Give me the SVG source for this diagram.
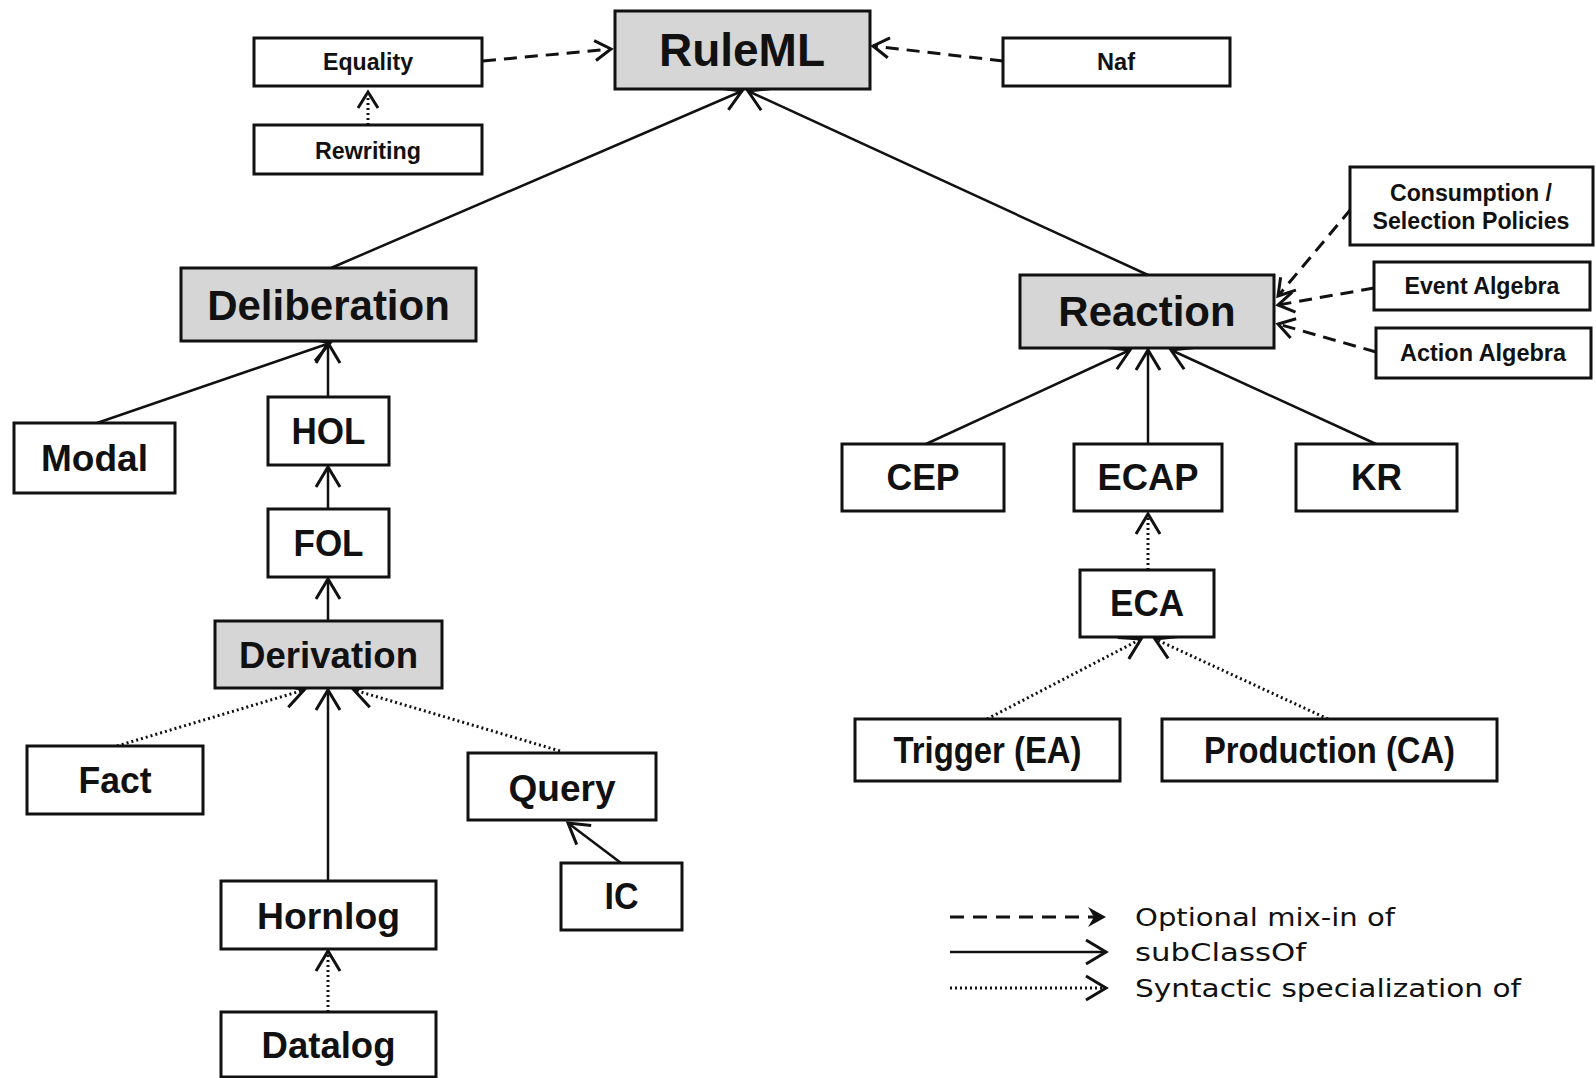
<svg xmlns="http://www.w3.org/2000/svg" width="1596" height="1078" viewBox="0 0 1596 1078">
<style>
.box{fill:#fff;stroke:#111;stroke-width:3}
.grey{fill:#d6d6d6}
.t{font-family:"Liberation Sans",Arial,sans-serif;font-weight:bold;fill:#111;text-anchor:middle}
.s{font-size:23px}
.m{font-size:37px}
.solid{fill:none;stroke:#111;stroke-width:2.5}
.dash{fill:none;stroke:#111;stroke-width:3;stroke-dasharray:13 8}
.dot{fill:none;stroke:#111;stroke-width:3;stroke-dasharray:2 3}
.leg{font-family:"DejaVu Sans",Verdana,sans-serif;font-size:24px;fill:#111}
</style>
<defs>
<marker id="a" markerUnits="userSpaceOnUse" markerWidth="26" markerHeight="30" refX="20" refY="12" orient="auto" overflow="visible">
<path d="M0,0 L20,12 L0,24" fill="none" stroke="#111" stroke-width="3"/>
</marker>
<marker id="as" markerUnits="userSpaceOnUse" markerWidth="24" markerHeight="24" refX="16" refY="10" orient="auto" overflow="visible">
<path d="M0,0 L16,10 L0,20" fill="none" stroke="#111" stroke-width="3"/>
</marker>
<marker id="af" markerUnits="userSpaceOnUse" markerWidth="24" markerHeight="24" refX="18" refY="10" orient="auto" overflow="visible">
<path d="M0,0 L18,10 L0,20 L6,10 z" fill="#111"/>
</marker>
</defs>
<rect width="1596" height="1078" fill="#fff"/>
<g id="connectors">
<path class="dash" d="M483,61 L611,49" marker-end="url(#as)"/>
<path class="dash" d="M1003,61 L873,46" marker-end="url(#as)"/>
<path class="dot" d="M368,125 L368,92" marker-end="url(#as)"/>
<path class="solid" d="M331,268 L742,91" marker-end="url(#a)"/>
<path class="solid" d="M1148,275 L748,91" marker-end="url(#a)"/>
<path class="dash" d="M1351,209 L1278,296" marker-end="url(#as)"/>
<path class="dash" d="M1374,288 L1278,305" marker-end="url(#as)"/>
<path class="dash" d="M1376,352 L1278,324" marker-end="url(#as)"/>
<path class="solid" d="M97,423 L330,343" marker-end="url(#a)"/>
<path class="solid" d="M328,397 L328,343" marker-end="url(#a)"/>
<path class="solid" d="M328,509 L328,467" marker-end="url(#a)"/>
<path class="solid" d="M328,621 L328,579" marker-end="url(#a)"/>
<path class="dot" d="M117,746 L304,690" marker-end="url(#a)"/>
<path class="dot" d="M560,751 L354,690" marker-end="url(#a)"/>
<path class="solid" d="M328,881 L328,690" marker-end="url(#a)"/>
<path class="solid" d="M621,863 L568,823" marker-end="url(#a)"/>
<path class="dot" d="M328,1012 L328,951" marker-end="url(#a)"/>
<path class="solid" d="M926,444 L1130,350" marker-end="url(#a)"/>
<path class="solid" d="M1148,444 L1148,350" marker-end="url(#a)"/>
<path class="solid" d="M1376,444 L1171,350" marker-end="url(#a)"/>
<path class="dot" d="M1148,570 L1148,514" marker-end="url(#a)"/>
<path class="dot" d="M987,719 L1141,639" marker-end="url(#a)"/>
<path class="dot" d="M1328,719 L1155,639" marker-end="url(#a)"/>
</g>
<g id="RuleML"><rect class="box grey" x="615" y="11" width="255" height="78"/><text class="t" x="742" y="66" font-size="46">RuleML</text></g>
<g id="Equality"><rect class="box" x="254" y="38" width="228" height="48"/><text class="t s" x="368" y="70" textLength="90" lengthAdjust="spacingAndGlyphs">Equality</text></g>
<g id="Rewriting"><rect class="box" x="254" y="125" width="228" height="49"/><text class="t s" x="368" y="159" textLength="106" lengthAdjust="spacingAndGlyphs">Rewriting</text></g>
<g id="Naf"><rect class="box" x="1003" y="38" width="227" height="48"/><text class="t s" x="1116" y="70" textLength="38" lengthAdjust="spacingAndGlyphs">Naf</text></g>
<g id="Deliberation"><rect class="box grey" x="181" y="268" width="295" height="73"/><text class="t" x="328.5" y="320" font-size="42">Deliberation</text></g>
<g id="Reaction"><rect class="box grey" x="1020" y="275" width="254" height="73"/><text class="t" x="1147" y="326" font-size="42">Reaction</text></g>
<g id="Consumption"><rect class="box" x="1350" y="167" width="243" height="78"/><text class="t s" x="1471" y="201" textLength="162" lengthAdjust="spacingAndGlyphs">Consumption /</text><text class="t s" x="1471" y="229" textLength="197" lengthAdjust="spacingAndGlyphs">Selection Policies</text></g>
<g id="EventAlgebra"><rect class="box" x="1374" y="262" width="216" height="48"/><text class="t s" x="1482" y="294" textLength="155" lengthAdjust="spacingAndGlyphs">Event Algebra</text></g>
<g id="ActionAlgebra"><rect class="box" x="1376" y="328" width="215" height="50"/><text class="t s" x="1483" y="361" textLength="166" lengthAdjust="spacingAndGlyphs">Action Algebra</text></g>
<g id="Modal"><rect class="box" x="14" y="423" width="161" height="70"/><text class="t m" x="94.5" y="471" textLength="107" lengthAdjust="spacingAndGlyphs">Modal</text></g>
<g id="HOL"><rect class="box" x="268" y="397" width="121" height="68"/><text class="t m" x="328.5" y="444" textLength="74" lengthAdjust="spacingAndGlyphs">HOL</text></g>
<g id="FOL"><rect class="box" x="268" y="509" width="121" height="68"/><text class="t m" x="328.5" y="556" textLength="70" lengthAdjust="spacingAndGlyphs">FOL</text></g>
<g id="Derivation"><rect class="box grey" x="215" y="621" width="227" height="67"/><text class="t m" x="328.5" y="668" textLength="179" lengthAdjust="spacingAndGlyphs">Derivation</text></g>
<g id="Fact"><rect class="box" x="27" y="746" width="176" height="68"/><text class="t m" x="115" y="793" textLength="73" lengthAdjust="spacingAndGlyphs">Fact</text></g>
<g id="Query"><rect class="box" x="468" y="753" width="188" height="67"/><text class="t m" x="562" y="801" textLength="107" lengthAdjust="spacingAndGlyphs">Query</text></g>
<g id="Hornlog"><rect class="box" x="221" y="881" width="215" height="68"/><text class="t m" x="328.5" y="929" textLength="143" lengthAdjust="spacingAndGlyphs">Hornlog</text></g>
<g id="IC"><rect class="box" x="561" y="863" width="121" height="67"/><text class="t m" x="621.5" y="909" textLength="34" lengthAdjust="spacingAndGlyphs">IC</text></g>
<g id="Datalog"><rect class="box" x="221" y="1012" width="215" height="65"/><text class="t m" x="328.5" y="1058" textLength="134" lengthAdjust="spacingAndGlyphs">Datalog</text></g>
<g id="CEP"><rect class="box" x="842" y="444" width="162" height="67"/><text class="t m" x="923" y="490" textLength="73" lengthAdjust="spacingAndGlyphs">CEP</text></g>
<g id="ECAP"><rect class="box" x="1074" y="444" width="148" height="67"/><text class="t m" x="1148" y="490" textLength="101" lengthAdjust="spacingAndGlyphs">ECAP</text></g>
<g id="KR"><rect class="box" x="1296" y="444" width="161" height="67"/><text class="t m" x="1376.5" y="490" textLength="51" lengthAdjust="spacingAndGlyphs">KR</text></g>
<g id="ECA"><rect class="box" x="1080" y="570" width="134" height="67"/><text class="t m" x="1147" y="616" textLength="74" lengthAdjust="spacingAndGlyphs">ECA</text></g>
<g id="Trigger"><rect class="box" x="855" y="719" width="265" height="62"/><text class="t m" x="987.5" y="763" textLength="188" lengthAdjust="spacingAndGlyphs">Trigger (EA)</text></g>
<g id="Production"><rect class="box" x="1162" y="719" width="335" height="62"/><text class="t m" x="1329.5" y="763" textLength="251" lengthAdjust="spacingAndGlyphs">Production (CA)</text></g>
<g id="legend">
<path class="dash" d="M950,917 L1106,917" marker-end="url(#af)" style="stroke-dasharray:14 9"/>
<path class="solid" d="M950,952 L1106,952" stroke-width="3" marker-end="url(#a)"/>
<path class="dot" d="M950,988 L1106,988" marker-end="url(#a)"/>
<text class="leg" x="1135" y="926" textLength="260" lengthAdjust="spacingAndGlyphs">Optional mix-in of</text>
<text class="leg" x="1135" y="961" textLength="171" lengthAdjust="spacingAndGlyphs">subClassOf</text>
<text class="leg" x="1135" y="997" textLength="386" lengthAdjust="spacingAndGlyphs">Syntactic specialization of</text>
</g>
</svg>
